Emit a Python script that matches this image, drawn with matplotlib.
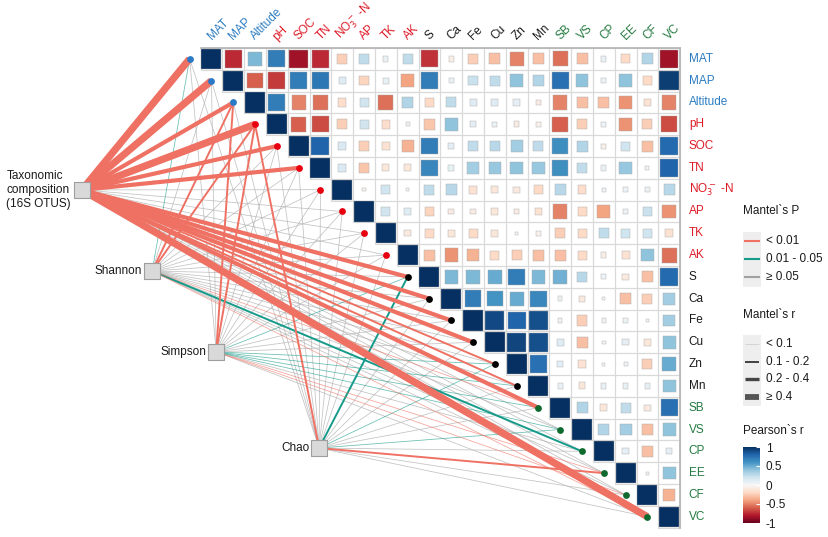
import numpy as np
import matplotlib
matplotlib.use("Agg")
import matplotlib.pyplot as plt
from matplotlib.patches import Rectangle
from matplotlib.colors import Normalize
from matplotlib.cm import ScalarMappable

plt.rcParams["font.family"] = ["Liberation Sans", "DejaVu Sans"]

# ---- data -------------------------------------------------------------
variables = ["MAT", "MAP", "Altitude", "pH", "SOC", "TN", "NO3", "AP", "TK", "AK",
             "S", "Ca", "Fe", "Cu", "Zn", "Mn", "SB", "VS", "CP", "EE", "CF", "VC"]
var_labels = ["MAT", "MAP", "Altitude", "pH", "SOC", "TN", r"NO$_3^-$ -N", "AP", "TK", "AK",
              "S", "Ca", "Fe", "Cu", "Zn", "Mn", "SB", "VS", "CP", "EE", "CF", "VC"]
var_groups = ["climate"] * 3 + ["soil"] * 7 + ["metal"] * 6 + ["quality"] * 6

# Pearson's r, upper triangle, row i holds columns i+1 .. end
corr_upper = [
    [-0.75, 0.45, 0.7, -0.85, -0.75, -0.25, 0.25, 0.07, 0.25, -0.72, -0.07, -0.25, -0.3, -0.5, -0.3, -0.55, -0.3, 0.07, -0.2, 0.3, -0.85],
    [-0.6, -0.7, 0.7, 0.72, 0.12, -0.22, 0.08, -0.4, 0.7, 0.07, 0.22, 0.25, 0.4, 0.3, 0.75, 0.4, 0.06, 0.4, -0.2, 0.95],
    [0.7, -0.5, -0.55, -0.18, 0.2, -0.55, 0.3, -0.2, 0.25, 0.12, 0.12, 0.1, -0.08, -0.5, -0.3, -0.3, -0.45, -0.15, -0.5],
    [-0.6, -0.65, -0.25, 0.2, -0.18, 0.04, -0.28, 0.4, 0.1, 0.07, -0.08, -0.05, -0.6, -0.25, 0.06, -0.45, -0.25, -0.65],
    [0.8, 0.15, -0.25, -0.15, -0.35, 0.7, 0.1, 0.25, 0.28, 0.35, 0.25, 0.62, 0.3, -0.06, 0.2, -0.3, 0.78],
    [0.15, -0.28, -0.12, -0.12, 0.65, 0.08, 0.35, 0.38, 0.4, 0.38, 0.62, 0.25, 0.07, 0.38, 0.04, 0.8],
    [-0.03, 0.2, 0.02, 0.25, 0.28, -0.15, -0.12, -0.1, -0.2, 0.28, -0.18, 0.04, 0.06, 0.05, 0.28],
    [0.2, 0.12, -0.22, -0.08, -0.08, -0.12, -0.08, -0.15, -0.5, -0.2, -0.4, 0.05, 0.22, -0.45],
    [-0.1, -0.2, -0.12, -0.2, -0.12, -0.03, -0.05, -0.25, -0.2, 0.25, 0.2, 0.2, -0.15],
    [-0.3, -0.45, -0.35, -0.2, -0.25, -0.3, -0.3, -0.2, -0.07, -0.15, 0.4, -0.55],
    [0.45, 0.45, 0.5, 0.7, 0.45, 0.48, 0.28, 0.06, -0.1, -0.3, 0.78],
    [0.7, 0.6, 0.5, 0.65, 0.05, -0.1, 0.02, -0.3, -0.25, 0.35],
    [0.9, 0.8, 0.88, 0.05, -0.25, 0.04, 0.05, 0.03, 0.35],
    [0.92, 0.88, 0.12, -0.3, 0.03, 0.1, -0.12, 0.4],
    [0.75, 0.1, -0.15, 0.02, 0.04, -0.25, 0.5],
    [0.07, -0.12, 0.07, 0.08, 0.08, 0.4],
    [0.3, -0.12, 0.25, -0.1, 0.75],
    [0.3, 0.35, -0.3, 0.4],
    [0.1, -0.3, 0.1],
    [0.02, 0.4],
    [-0.35],
]

node_names = ["Taxonomic\ncomposition\n(16S OTUS)", "Shannon", "Simpson", "Chao"]

# Mantel r / p of each node against every variable (same order as variables)
taxo_r = [0.52, 0.48, 0.32, 0.45, 0.30, 0.28, 0.06, 0.05, 0.04, 0.07, 0.30, 0.26,
          0.25, 0.22, 0.18, 0.16, 0.30, 0.05, 0.03, 0.06, 0.08, 0.62]
taxo_p = [0.001, 0.001, 0.001, 0.001, 0.001, 0.001, 0.21, 0.35, 0.48, 0.12, 0.001, 0.001,
          0.001, 0.001, 0.002, 0.004, 0.001, 0.30, 0.62, 0.18, 0.09, 0.001]
shannon_r = [0.06, 0.04, 0.15, 0.14, 0.05, 0.04, 0.03, 0.05, 0.04, 0.03, 0.05, 0.04,
             0.06, 0.05, 0.04, 0.05, 0.07, 0.05, 0.14, 0.06, 0.04, 0.08]
shannon_p = [0.03, 0.4, 0.003, 0.004, 0.3, 0.5, 0.6, 0.3, 0.4, 0.7, 0.2, 0.5,
             0.3, 0.2, 0.4, 0.3, 0.008, 0.2, 0.02, 0.15, 0.5, 0.006]
simpson_r = [0.04, 0.05, 0.16, 0.15, 0.04, 0.05, 0.03, 0.04, 0.06, 0.03, 0.05, 0.04,
             0.05, 0.06, 0.05, 0.06, 0.07, 0.06, 0.04, 0.07, 0.06, 0.05]
simpson_p = [0.3, 0.2, 0.002, 0.003, 0.4, 0.3, 0.6, 0.5, 0.2, 0.7, 0.03, 0.4,
             0.3, 0.2, 0.04, 0.03, 0.02, 0.03, 0.4, 0.007, 0.006, 0.2]
chao_r = [0.03, 0.04, 0.05, 0.13, 0.04, 0.03, 0.05, 0.04, 0.05, 0.03, 0.14, 0.05,
          0.04, 0.05, 0.06, 0.04, 0.05, 0.06, 0.05, 0.12, 0.04, 0.05]
chao_p = [0.5, 0.4, 0.3, 0.004, 0.3, 0.6, 0.2, 0.4, 0.3, 0.5, 0.02, 0.3,
          0.4, 0.2, 0.03, 0.3, 0.4, 0.04, 0.3, 0.003, 0.2, 0.3]

mantel_r = [taxo_r, shannon_r, simpson_r, chao_r]
mantel_p = [taxo_p, shannon_p, simpson_p, chao_p]

# ---- styles -----------------------------------------------------------
label_col = {"climate": "#2b7cc2", "soil": "#de1a27", "metal": "#1a1a1a", "quality": "#247a40"}
dot_col = {"climate": "#2a78c6", "soil": "#e8000e", "metal": "#000000", "quality": "#0f6a2e"}
p_cols = ["#ee7163", "#169b8a", "#b3b3b3"]
r_widths = [0.55, 1.4, 3.0, 5.2]

# node positions, in heatmap cell units
node_xy = [(-5.94, 6.01), (-2.72, 9.73), (0.22, 13.44), (4.94, 17.85)]
node_label_dx = [-0.5, -0.45, -0.45, -0.45]

n = len(variables)
cmap = plt.get_cmap("RdBu")
norm = Normalize(-1, 1)

fig = plt.figure(figsize=(8.29, 5.37), dpi=100)
ax = fig.add_axes([0, 0, 1, 1])
ax.set_xlim(-9.70, 28.33)
ax.set_ylim(21.93, -2.70)
ax.axis("off")

# heatmap grid
for i in range(n):
    for j in range(i, n):
        ax.add_patch(Rectangle((j - 0.5, i - 0.5), 1, 1, fill=False,
                               ec="#d9d9d9", lw=0.8, zorder=1))
ax.plot([-0.5, n - 0.5], [-0.5, -0.5], color="#b3b3b3", lw=1.2, zorder=2)
ax.plot([n - 0.5, n - 0.5], [-0.5, n - 0.5], color="#b3b3b3", lw=1.2, zorder=2)

for i in range(n):
    row = [1.0] + corr_upper[i] if i < n - 1 else [1.0]
    for k, r in enumerate(row):
        j = i + k
        side = 0.92 * np.sqrt(abs(r))
        ax.add_patch(Rectangle((j - side / 2, i - side / 2), side, side,
                               fc=cmap(norm(r)), ec="#a8a8a8", lw=0.3, zorder=3))

# labels
for i, lab in enumerate(var_labels):
    c = label_col[var_groups[i]]
    ax.text(21.9, i, lab, color=c, fontsize=8.5, ha="left", va="center")
    ax.text(i + 0.1, -0.75, lab, color=c, fontsize=8.5, ha="left", va="bottom",
            rotation=45, rotation_mode="anchor")

# mantel links
links = []
for k in range(len(node_names)):
    pc = np.digitize(mantel_p[k], [0.01, 0.05])
    rc = np.digitize(mantel_r[k], [0.1, 0.2, 0.4])
    for v in range(n):
        links.append((-pc[v], rc[v], k, v, pc[v]))
links.sort()
for _, rc, k, v, pc in links:
    x0, y0 = node_xy[k]
    if pc == 2:
        alpha = 0.8
    elif rc == 0:
        alpha = 0.65
    else:
        alpha = 1.0
    ax.plot([x0, v - 1], [y0, v], color=p_cols[pc], lw=r_widths[rc],
            alpha=alpha, solid_capstyle="butt", zorder=4)

for v in range(n):
    ax.scatter(v - 1, v, s=24, color=dot_col[var_groups[v]], zorder=6, lw=0)

for k, name in enumerate(node_names):
    x0, y0 = node_xy[k]
    ax.scatter(x0, y0, s=120, marker="s", color="#d9d9d9", edgecolor="#9e9e9e",
               lw=0.8, zorder=7)
    ax.text(x0 + node_label_dx[k], y0, name, fontsize=8.5, ha="right", va="center",
            multialignment="left", color="#1a1a1a", linespacing=1.2)

# legends (pixel coordinates)
lg = fig.add_axes([0, 0, 1, 1])
lg.set_xlim(0, 829)
lg.set_ylim(537, 0)
lg.axis("off")
lg.patch.set_visible(False)

lg.text(743, 211, "Mantel`s P", fontsize=8.5, va="center", color="#1a1a1a")
lg.add_patch(Rectangle((743, 232), 18, 55, color="#eeeeee", lw=0))
for y, c, t in zip([241, 259, 277], ["#ee7163", "#169b8a", "#a0a0a0"],
                   ["< 0.01", "0.01 - 0.05", "≥ 0.05"]):
    lg.plot([745, 759], [y, y], color=c, lw=1.5)
    lg.text(766, y, t, fontsize=8.5, va="center", color="#1a1a1a")

lg.text(743, 315, "Mantel`s r", fontsize=8.5, va="center", color="#1a1a1a")
lg.add_patch(Rectangle((743, 335), 18, 71, color="#eeeeee", lw=0))
r_leg_cols = ["#d0d0d0", "#333333", "#444444", "#555555"]
r_leg_w = [0.6, 1.3, 2.4, 4.2]
for y, c, w, t in zip([344, 362, 379, 397], r_leg_cols, r_leg_w,
                      ["< 0.1", "0.1 - 0.2", "0.2 - 0.4", "≥ 0.4"]):
    lg.plot([745, 759], [y, y], color=c, lw=w, solid_capstyle="butt")
    lg.text(766, y, t, fontsize=8.5, va="center", color="#1a1a1a")

lg.text(743, 431, "Pearson`s r", fontsize=8.5, va="center", color="#1a1a1a")
cax = fig.add_axes([743 / 829, (537 - 523) / 537, 17 / 829, 76 / 537])
cb = fig.colorbar(ScalarMappable(norm=norm, cmap=cmap), cax=cax,
                  ticks=[-1, -0.5, 0, 0.5, 1])
cb.outline.set_visible(False)
cb.ax.set_yticklabels(["-1", "-0.5", "0", "0.5", "1"])
cb.ax.tick_params(direction="in", length=3, color="white", labelsize=8.5,
                  pad=4, labelcolor="#1a1a1a")

fig.savefig("out.png", dpi=100)
